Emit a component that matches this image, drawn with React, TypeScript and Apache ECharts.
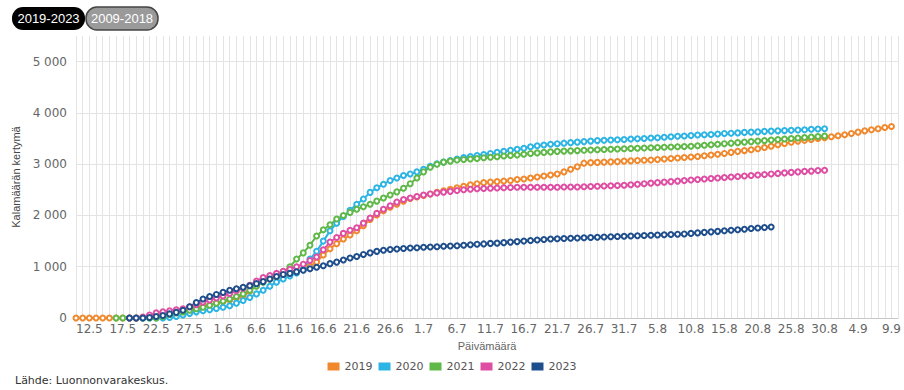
import React, { useEffect, useRef } from 'react';
import * as echarts from 'echarts';

// Daily categories: 10.5 – 10.9
const MONTH_SPANS: number[][] = [[5, 10, 31], [6, 1, 30], [7, 1, 31], [8, 1, 31], [9, 1, 10]];
const categories: string[] = [];
for (const [m, a, b] of MONTH_SPANS) for (let d = a; d <= b; d++) categories.push(`${d}.${m}`);

const YEARS = ['2019', '2020', '2021', '2022', '2023'];
const COLORS = ['#f0892e', '#2cb4e4', '#5fb847', '#df4ea3', '#1f4e8c'];
const Y_TICKS = [0, 1000, 2000, 3000, 4000, 5000];

const START_2019 = 0;
const values2019 = [
  0, 0, 0, 0, 0, 0, 0, 0, 0, 0,
  10, 25, 50, 70, 90, 110, 140, 170, 200, 230,
  260, 290, 320, 350, 390, 420, 520, 630, 720, 760,
  790, 820, 850, 900, 960, 1010, 1090, 1230, 1350, 1450,
  1540, 1620, 1700, 1800, 1920, 2010, 2090, 2160, 2220, 2280,
  2330, 2360, 2390, 2420, 2450, 2480, 2510, 2540, 2570, 2600,
  2620, 2640, 2650, 2660, 2670, 2680, 2700, 2710, 2730, 2750,
  2770, 2790, 2810, 2850, 2900, 2950, 3020, 3030, 3035, 3040,
  3045, 3050, 3060, 3065, 3070, 3075, 3080, 3090, 3100, 3110,
  3120, 3130, 3140, 3150, 3165, 3180, 3195, 3210, 3230, 3250,
  3265, 3280, 3300, 3325, 3350, 3380, 3405, 3430, 3450, 3465,
  3480, 3500, 3515, 3535, 3555, 3575, 3600, 3625, 3650, 3670,
  3690, 3715, 3735,
];

const START_2020 = 10;
const values2020 = [
  0, 0, 0, 0, 10, 30, 60, 90, 120, 140,
  160, 185, 210, 240, 290, 340, 400, 470, 540, 620,
  700, 760, 820, 880, 950, 1150, 1300, 1500, 1700, 1850,
  1980, 2100, 2220, 2320, 2450, 2540, 2610, 2680, 2730, 2780,
  2810, 2850, 2900, 2960, 3010, 3040, 3070, 3100, 3130, 3150,
  3170, 3190, 3210, 3230, 3250, 3270, 3290, 3310, 3340, 3360,
  3375, 3390, 3400, 3410, 3420, 3430, 3440, 3450, 3460, 3465,
  3470, 3475, 3480, 3490, 3495, 3500, 3510, 3515, 3525, 3535,
  3545, 3550, 3560, 3570, 3575, 3580, 3590, 3600, 3605, 3610,
  3620, 3625, 3630, 3640, 3645, 3650, 3655, 3660, 3665, 3670,
  3680, 3685, 3690,
];

const START_2021 = 6;
const values2021 = [
  0, 0, 0, 0,
  0, 0, 0, 30, 70, 100, 120, 150, 180, 210,
  250, 290, 330, 370, 420, 470, 540, 620, 700, 760,
  810, 900, 1000, 1150, 1270, 1420, 1600, 1720, 1820, 1930,
  2000, 2060, 2120, 2170, 2220, 2280, 2340, 2400, 2460, 2530,
  2620, 2730, 2850, 2940, 3000, 3040, 3060, 3080, 3090, 3100,
  3110, 3125, 3135, 3145, 3160, 3170, 3180, 3195, 3210, 3220,
  3230, 3240, 3250, 3255, 3260, 3265, 3270, 3275, 3280, 3285,
  3290, 3295, 3300, 3305, 3310, 3315, 3320, 3325, 3330, 3335,
  3340, 3345, 3350, 3360, 3370, 3380, 3390, 3400, 3410, 3420,
  3430, 3440, 3450, 3460, 3470, 3480, 3490, 3500, 3510, 3520,
  3530, 3540, 3550,
];

const START_2022 = 8;
const values2022 = [
  0, 0,
  20, 60, 100, 120, 140, 160, 180, 220, 260, 310,
  350, 390, 430, 480, 530, 580, 640, 720, 790, 830,
  870, 910, 950, 1000, 1050, 1120, 1190, 1330, 1480, 1570,
  1650, 1710, 1760, 1850, 1950, 2040, 2120, 2190, 2260, 2310,
  2340, 2370, 2400, 2420, 2440, 2455, 2470, 2485, 2500, 2510,
  2520, 2525, 2530, 2535, 2540, 2545, 2550, 2550, 2550, 2550,
  2550, 2550, 2550, 2555, 2555, 2555, 2560, 2565, 2570, 2575,
  2580, 2585, 2590, 2600, 2610, 2620, 2630, 2640, 2650, 2660,
  2670, 2680, 2690, 2700, 2710, 2720, 2730, 2740, 2750, 2760,
  2770, 2780, 2790, 2800, 2810, 2820, 2830, 2840, 2850, 2860,
  2865, 2875, 2880,
];

const START_2023 = 8;
const values2023 = [
  0, 0,
  0, 10, 30, 50, 80, 110, 150, 220, 300, 370,
  420, 460, 500, 540, 570, 600, 630, 670, 710, 760,
  810, 850, 870, 900, 930, 960, 990, 1020, 1060, 1090,
  1130, 1170, 1200, 1240, 1270, 1300, 1320, 1335, 1345, 1355,
  1365, 1370, 1380, 1385, 1390, 1400, 1405, 1410, 1420, 1430,
  1440, 1445, 1455, 1460, 1470, 1480, 1490, 1500, 1510, 1520,
  1530, 1540, 1545, 1550, 1555, 1560, 1565, 1570, 1575, 1580,
  1585, 1590, 1595, 1600, 1605, 1610, 1615, 1620, 1625, 1630,
  1635, 1640, 1650, 1660, 1670, 1680, 1690, 1700, 1710, 1720,
  1730, 1745, 1755, 1765, 1775,
];

const SERIES_INPUT: [number, number[]][] = [
  [START_2019, values2019],
  [START_2020, values2020],
  [START_2021, values2021],
  [START_2022, values2022],
  [START_2023, values2023],
];

const pad = (start: number, vals: number[]) =>
  (new Array(start).fill(null) as (number | null)[]).concat(vals);

const fmt = (v: number) => {
  if (v > 5000) return '';
  if (v < 1000) return String(v);
  return `${Math.floor(v / 1000)} ${String(v % 1000).padStart(3, '0')}`;
};

export default function App() {
  const ref = useRef<HTMLDivElement>(null);
  useEffect(() => {
    document.body.style.margin = '0';
    const chart = echarts.init(ref.current!, null, { renderer: 'svg' });
    chart.setOption({
      animation: false,
      backgroundColor: '#ffffff',
      color: COLORS,
      grid: { left: 76, right: 4, top: 36, bottom: 72, containLabel: false },
      legend: {
        data: YEARS,
        left: 'center',
        top: 356,
        icon: 'rect',
        itemWidth: 12,
        itemHeight: 8,
        itemGap: 6,
        textStyle: { fontFamily: 'DejaVu Sans', fontSize: 11, color: '#555' },
      },
      xAxis: {
        type: 'category',
        data: categories,
        boundaryGap: false,
        name: 'Päivämäärä',
        nameLocation: 'middle',
        nameGap: 22,
        nameTextStyle: { fontFamily: 'Liberation Sans', fontSize: 11, color: '#666' },
        axisLine: { lineStyle: { color: '#c8c8c8' } },
        axisTick: { show: false },
        axisLabel: {
          interval: (i: number) => i >= 2 && (i - 2) % 5 === 0,
          fontFamily: 'DejaVu Sans',
          fontSize: 12,
          color: '#666',
          margin: 5,
        },
        splitLine: { show: true, interval: 0, lineStyle: { color: '#e4e4e4', width: 1 } },
      },
      yAxis: {
        type: 'value',
        min: Y_TICKS[0],
        max: 5500,
        interval: 1000,
        name: 'Kalamäärän kertymä',
        nameLocation: 'middle',
        nameGap: 53,
        nameTextStyle: { fontFamily: 'Liberation Sans', fontSize: 11, color: '#444' },
        axisLine: { show: false },
        axisTick: { show: false },
        axisLabel: { formatter: fmt, fontFamily: 'DejaVu Sans', fontSize: 12, color: '#666', margin: 9 },
        splitLine: {
          lineStyle: {
            color: ['#e4e4e4', '#e4e4e4', '#e4e4e4', '#e4e4e4', '#e4e4e4', '#e4e4e4', 'rgba(0,0,0,0)'],
          },
        },
      },
      series: SERIES_INPUT.map(([start, vals], k) => ({
        name: YEARS[k],
        type: 'line',
        data: pad(start, vals),
        symbol: 'emptyCircle',
        symbolSize: 5,
        showAllSymbol: true,
        lineStyle: { width: 2, color: COLORS[k] },
        itemStyle: { color: COLORS[k], borderWidth: 1.5 },
      })),
      graphic: [
        { type: 'rect', shape: { x: 12, y: 7, width: 73, height: 23, r: 11 }, style: { fill: '#000' } },
        {
          type: 'text', x: 48.5, y: 18.5,
          style: { text: '2019-2023', fill: '#fff', font: '13px "Liberation Sans"', align: 'center', verticalAlign: 'middle' },
        },
        { type: 'rect', shape: { x: 86, y: 7, width: 72, height: 23, r: 11 }, style: { fill: '#9a9a9a', stroke: '#444', lineWidth: 1.5 } },
        {
          type: 'text', x: 122, y: 18.5,
          style: { text: '2009-2018', fill: '#fff', font: '13px "Liberation Sans"', align: 'center', verticalAlign: 'middle' },
        },
        {
          type: 'text', x: 15, y: 380,
          style: { text: 'Lähde: Luonnonvarakeskus.', fill: '#333', font: '11px "DejaVu Sans"', verticalAlign: 'middle' },
        },
      ],
    });
    return () => chart.dispose();
  }, []);
  return <div ref={ref} style={{ position: 'absolute', left: 0, top: 0, width: 904, height: 390 }} />;
}
